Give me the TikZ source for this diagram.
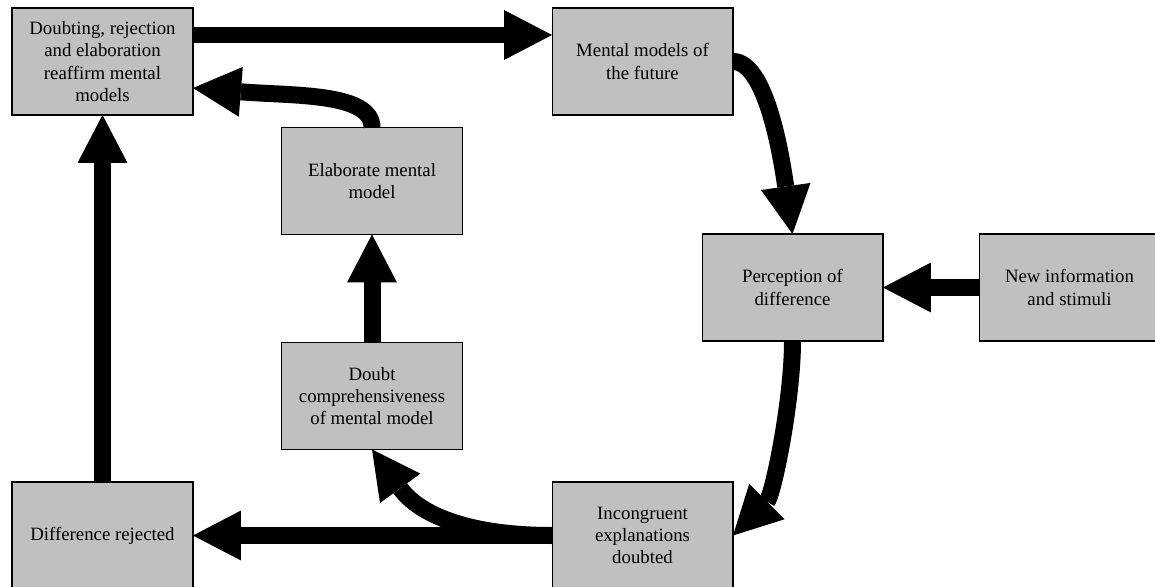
\documentclass[tikz,border=0pt]{standalone}
\usepackage{fontspec}
\setmainfont{Liberation Serif}
\usepackage{xcolor}
\usetikzlibrary{arrows.meta}
\definecolor{boxgray}{RGB}{192,192,192}

\begin{document}
\begin{tikzpicture}[x=0.02cm,y=-0.02cm,
  box/.style={draw=black,line width=0.6pt,fill=boxgray,minimum width=3.62cm,
    minimum height=2.14cm,inner sep=2pt,outer sep=0pt,align=center,
    font=\fontsize{10.7}{12.7}\selectfont},
  flow/.style={line width=0.34cm,-{Triangle[length=0.96cm,width=1cm,line width=0pt]}}]
  \useasboundingbox (0,0) rectangle (1155,587);
  \node[box] (reaffirm) at (102.5,61.5) {Doubting, rejection\\and elaboration\\reaffirm mental\\models};
  \node[box] (future) at (642.5,61.5) {Mental models of\\the future};
  \node[box] (elab) at (372,181) {Elaborate mental\\model};
  \node[box] (perception) at (792.5,287.5) {Perception of\\difference};
  \node[box] (newinfo) at (1069.5,287.5) {New information\\and stimuli};
  \node[box] (doubtcomp) at (372,396) {Doubt\\comprehensiveness\\of mental model};
  \node[box] (rejected) at (102.5,535.5) {Difference rejected};
  \node[box] (incongruent) at (642.5,535.5) {Incongruent\\explanations\\doubted};
  \draw[flow] ([yshift=0.53cm]reaffirm.east) -- ([yshift=0.53cm]future.west);
  \draw[flow] (future.east) .. controls +(32,0) and +(-12,-84) .. (perception.north);
  \draw[flow] (newinfo.west) -- (perception.east);
  \draw[flow] (perception.south) .. controls +(0,59) and +(40,-40) .. (incongruent.east);
  \draw[flow] (incongruent.west) -- (rejected.east);
  \draw[flow] (incongruent.west) .. controls +(-82,0) and +(48,66) .. (doubtcomp.south);
  \draw[flow] (doubtcomp.north) -- (elab.south);
  \draw[flow] (elab.north) .. controls +(0,-35) and +(100,8) .. ([yshift=-0.53cm]reaffirm.east);
  \draw[flow] (rejected.north) -- (reaffirm.south);
\end{tikzpicture}
\end{document}
